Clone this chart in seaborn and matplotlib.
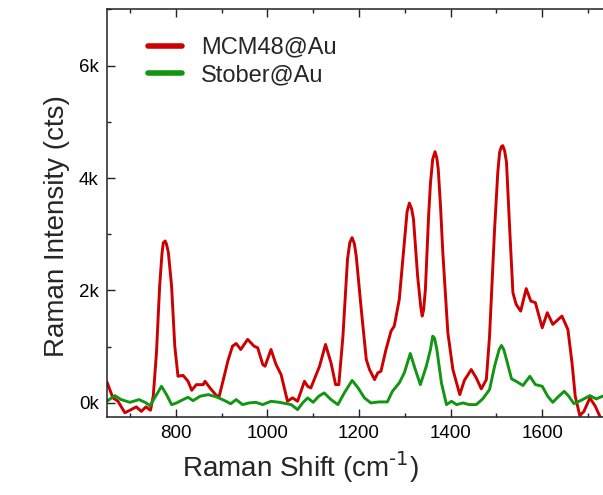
import numpy as np
import pandas as pd
import seaborn as sns
import matplotlib.pyplot as plt
from matplotlib.ticker import MultipleLocator, FuncFormatter

# spectra (Raman shift in cm-1, intensity in counts)
mcm_shift = [650, 663, 674, 689, 700, 714, 725, 735, 745, 751, 758, 765, 770, 773, 777, 780, 784, 791, 798,
             805, 816, 827, 835, 845, 860, 864, 875, 889, 895, 904, 914, 924, 932, 942, 957, 971,
             979, 990, 995, 1008, 1019, 1030, 1044, 1055, 1066, 1081, 1088, 1095, 1114, 1127,
             1139, 1149, 1156, 1165, 1175, 1180, 1185, 1190, 1194, 1205, 1216, 1223, 1234, 1241, 1248, 1259,
             1270, 1277, 1288, 1299, 1305, 1310, 1315, 1319, 1328, 1335, 1338, 1341, 1345, 1352, 1356, 1361,
             1366, 1370, 1373, 1378, 1383,
             1394, 1405, 1420, 1430, 1445, 1456, 1467, 1478, 1485, 1496, 1503, 1507, 1511, 1514, 1518, 1522, 1529,
             1536, 1543, 1553, 1565, 1575, 1585, 1600, 1611, 1623, 1643, 1656, 1665, 1672, 1682,
             1691, 1704, 1716, 1729, 1745]
mcm_int = [370, 90, 30, -175, -130, -70, -150, -70, -130, 120, 890, 2080, 2650, 2850, 2880, 2820, 2675, 2080, 1010,
           475, 490, 385, 225, 325, 325, 385, 265, 130, 120, 415, 750, 1010, 1057, 950, 1130, 1010,
           980, 683, 653, 950, 683, 505, 30, 90, 30, 385, 296, 267, 653, 1040,
           713, 326, 326, 1187, 2555, 2850, 2940, 2830, 2614, 1664, 772, 594, 415, 535, 564, 950,
           1277, 1366, 1842, 2853, 3400, 3554, 3450, 3268, 2257, 1700, 1544, 1650, 2020, 3327, 3900, 4338,
           4468, 4350, 4160, 3500, 2675,
           1248, 594, 148, 400, 594, 445, 250, 415, 1187, 3090, 4100, 4458, 4560, 4575, 4480, 4280, 3090,
           1961, 1753, 1633, 2033, 1812, 1783, 1337, 1605, 1396, 1544, 1307, 713, 118, -226,
           -150, 89, -61, -298, -500]

stober_shift = [650, 667, 681, 700, 720, 733, 744, 754, 769, 780, 791, 802, 816, 827, 838, 853, 871,
                889, 907, 920, 932, 946, 960, 975, 990, 1008, 1026, 1052, 1066, 1077, 1088, 1100,
                1112, 1124, 1139, 1154, 1168, 1185, 1197, 1212, 1226, 1244, 1262, 1273, 1288, 1299,
                1312, 1323, 1334, 1347, 1356, 1361, 1365, 1370, 1380, 1391, 1402, 1413, 1427, 1441, 1456, 1470,
                1485, 1496, 1506, 1511, 1516, 1522, 1533, 1543, 1558, 1573, 1585, 1600, 1612, 1623, 1636, 1648,
                1658, 1669, 1685, 1704, 1718, 1731, 1745]
stober_int = [30, 130, 59, 11, 59, 11, -48, 89, 296, 148, -30, 0, 59, 100, 41, 118, 148,
              107, 41, -15, 59, -30, 0, 11, -30, 29, 11, -30, -119, 0, 89, 11,
              118, 178, 59, -30, 178, 400, 280, 89, 0, 18, 18, 207, 357, 535,
              879, 594, 326, 653, 950, 1187, 1150, 950, 357, -30, 29, -30, 0, -30, -30, 71,
              237, 653, 950, 1022, 950, 772, 428, 385, 310, 474, 326, 296, 118, 11, 118, 207,
              118, -12, 46, 130, 71, 118, 100]

labels = ["MCM48@Au", "Stober@Au"]
colors = ["#CC0000", "#129612"]

df = pd.concat([
    pd.DataFrame({"shift": mcm_shift, "intensity": mcm_int, "sample": labels[0]}),
    pd.DataFrame({"shift": stober_shift, "intensity": stober_int, "sample": labels[1]}),
])

sns.set_theme(style="ticks")
plt.rcParams["font.family"] = ["Liberation Sans", "DejaVu Sans"]
plt.rcParams["mathtext.default"] = "regular"

fig = plt.figure(figsize=(6.03, 4.95), dpi=100)
ax = fig.add_axes([0.1774, 0.1576, 0.8358, 0.8236])

sns.lineplot(data=df, x="shift", y="intensity", hue="sample", palette=colors,
             linewidth=2.1, ax=ax, estimator=None, sort=False,
             solid_joinstyle="round", solid_capstyle="round")

ax.set_xlim(650, 1750)
ax.set_ylim(-250, 7000)
ax.xaxis.set_major_locator(MultipleLocator(200))
ax.xaxis.set_minor_locator(MultipleLocator(100))
ax.yaxis.set_major_locator(MultipleLocator(2000))
ax.yaxis.set_minor_locator(MultipleLocator(1000))
ax.yaxis.set_major_formatter(FuncFormatter(lambda v, p: f"{v/1000:.0f}k"))

ax.tick_params(which="both", direction="in", top=True, right=True, width=1, color="#222222")
ax.tick_params(which="major", length=6, labelsize=13.5, pad=6, labelcolor="black")
ax.tick_params(which="minor", length=3)
for s in ax.spines.values():
    s.set_linewidth(1.1)
    s.set_color("#222222")

ax.set_xlabel(r"Raman Shift (cm$^{\text{-1}}$)", fontsize=20)
ax.set_ylabel("Raman Intensity (cts)", fontsize=20)
ax.xaxis.set_label_coords(0.383, -0.081)
ax.yaxis.set_label_coords(-0.073, 0.4685)

leg = ax.legend(loc="upper left", bbox_to_anchor=(0.0813, 0.9326), frameon=False,
                fontsize=17, handlelength=1.45, handletextpad=0.8, labelspacing=0.22,
                borderpad=0, borderaxespad=0, title=None)
for h in leg.legend_handles:
    h.set_linewidth(4)

fig.savefig("out.png", dpi=100)
